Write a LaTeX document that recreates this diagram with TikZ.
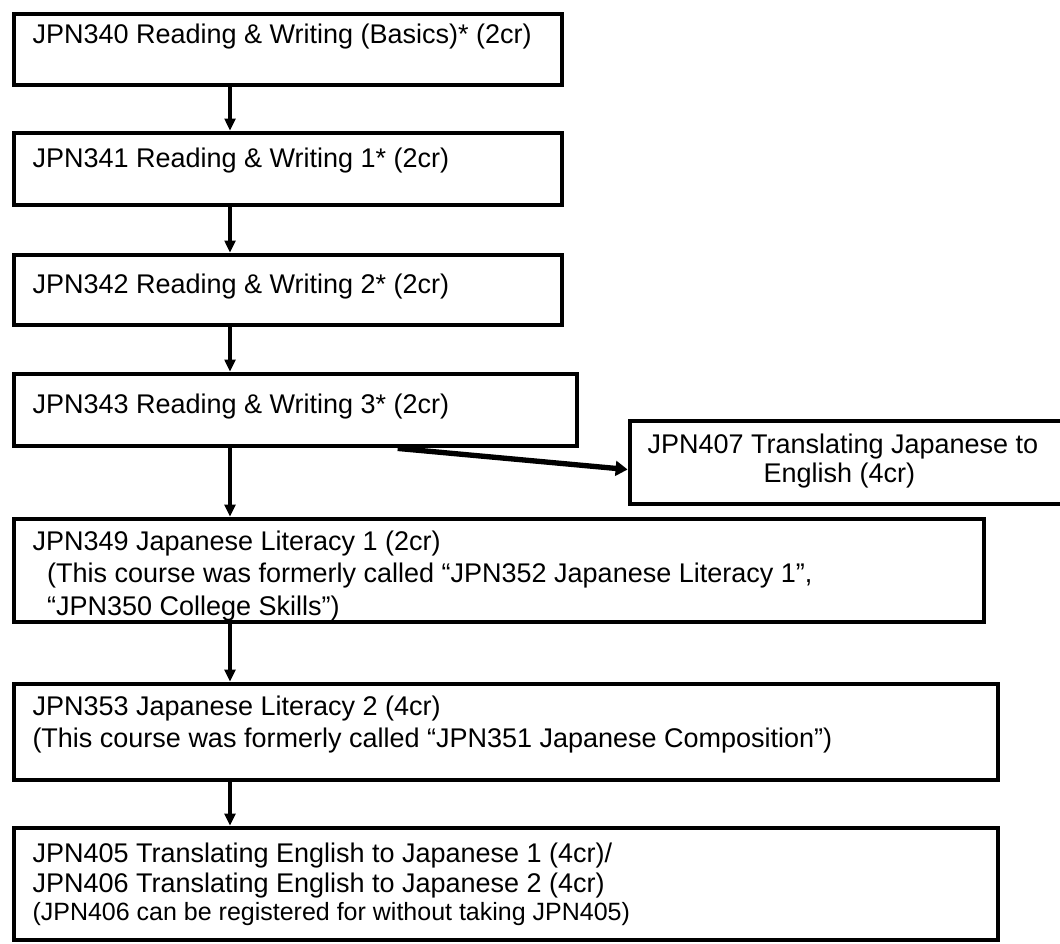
\documentclass[tikz,border=0pt]{standalone}
\usepackage{fontspec}
\setmainfont{Liberation Sans}
\usetikzlibrary{arrows.meta,calc}

\tikzset{every picture/.style={line width=0.75pt}}
\tikzset{
	coursebox/.style={draw, line width=3.6pt, inner sep=0pt},
	coursetext/.style={anchor=north west, inner sep=0pt, align=left, font=\fontsize{20.25}{24.4}\selectfont},
	flow/.style={line width=3.6pt, -{Triangle[width=8pt,length=9pt]}},
}

\begin{document}
\begin{tikzpicture}[x=0.75pt,y=0.75pt,yscale=-1,xscale=1]
	\useasboundingbox (0,0) rectangle (1060,943);
	\clip (0,0) rectangle (1060,943);

	%Course boxes
	\node [coursebox, minimum width=411pt, minimum height=53.25pt] (b340) at (288,49.5) {};
	\node [coursebox, minimum width=411pt, minimum height=54pt] (b341) at (288,169) {};
	\node [coursebox, minimum width=411pt, minimum height=52.5pt] (b342) at (288,290) {};
	\node [coursebox, minimum width=422.25pt, minimum height=54pt] (b343) at (295.5,410) {};
	\node [coursebox, minimum width=333.75pt, minimum height=62.25pt] (b407) at (852.5,462.5) {};
	\node [coursebox, minimum width=727.5pt, minimum height=77.25pt] (b349) at (499,570.5) {};
	\node [coursebox, minimum width=738pt, minimum height=72pt] (b353) at (506,732) {};
	\node [coursebox, minimum width=738pt, minimum height=84pt] (b405) at (506,884) {};

	% Text Node
	\node [coursetext] (t340) at (32,23) {JPN340 Reading \& Writing (Basics)* (2cr)};
	% Text Node
	\node [coursetext] (t341) at (32,147) {JPN341 Reading \& Writing 1* (2cr)};
	% Text Node
	\node [coursetext] (t342) at (32,273) {JPN342 Reading \& Writing 2* (2cr)};
	% Text Node
	\node [coursetext] (t343) at (32,393) {JPN343 Reading \& Writing 3* (2cr)};
	% Text Node
	\node [coursetext, font=\fontsize{20.25}{21.75}\selectfont] (t407) at (647,433) {JPN407 Translating Japanese to\\ \hspace*{87pt}English (4cr)};
	% Text Node
	\node [coursetext] (t349) at (32,530) {JPN349 Japanese Literacy 1 (2cr)\\ \hspace*{11pt}(This course was formerly called “JPN352 Japanese Literacy 1”,\\ \hspace*{11pt}“JPN350 College Skills”)};
	% Text Node
	\node [coursetext, font=\fontsize{20.25}{24}\selectfont] (t353) at (32,695) {JPN353 Japanese Literacy 2 (4cr)\\(This course was formerly called “JPN351 Japanese Composition”)};
	% Text Node
	\node [coursetext, font=\fontsize{20.25}{22.5}\selectfont] (t405) at (32,842) {JPN405 Translating English to Japanese 1 (4cr)/\\JPN406 Translating English to Japanese 2 (4cr)\\[-1.5pt]{\fontsize{18.75}{22.5}\selectfont(JPN406 can be registered for without taking JPN405)}};

	%Connections
	\coordinate (spine) at (230,0);
	\draw [flow] (b340.south -| spine) -- (b341.north -| spine);
	\draw [flow] (b341.south -| spine) -- (b342.north -| spine);
	\draw [flow] (b342.south -| spine) -- (b343.north -| spine);
	\draw [flow] (b343.south -| spine) -- (b349.north -| spine);
	\draw [flow] (b349.south -| spine) -- (b353.north -| spine);
	\draw [flow] (b353.south -| spine) -- (b405.north -| spine);
	\draw [flow, line width=4pt, -{Triangle[width=11pt,length=9pt]}] ($(b343.south west)!0.68!(b343.south east)$) -- ($(b407.west)+(0,7)$);

\end{tikzpicture}
\end{document}
